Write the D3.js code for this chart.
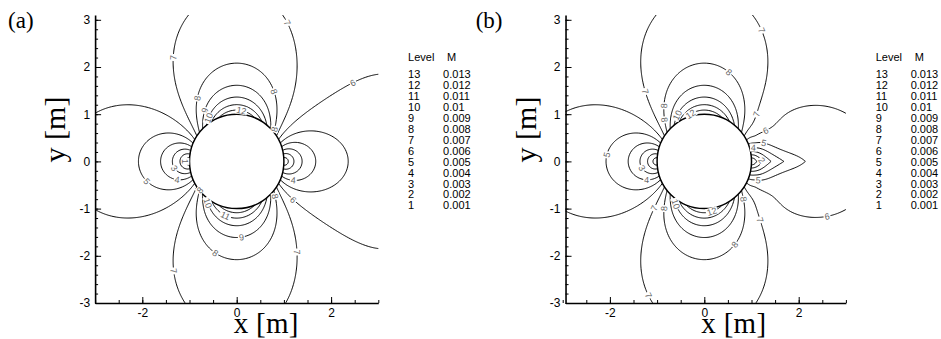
<!DOCTYPE html>
<html>
<head>
<meta charset="utf-8">
<script src="https://cdn.jsdelivr.net/npm/d3@7"></script>
<style>
body{margin:0;background:#fff}
svg{display:block}
.contour{fill:none;stroke:#000;stroke-width:1}
.tick text{font-family:"Liberation Sans",Arial,sans-serif;font-size:12px;fill:#000}
.tick line{stroke:#000;stroke-width:1}
.domain{stroke:#000;stroke-width:1.6}
.title{font-family:"Liberation Serif","Times New Roman",serif;fill:#000}
.legend{font-family:"Liberation Sans",Arial,sans-serif;font-size:11px;fill:#000}
.clabel{font-family:"Liberation Sans",Arial,sans-serif;font-size:9px;fill:#666}
</style>
</head>
<body>
<script>
(function(){

    //legend table: contour level numbers and their Mach values
    var levels = [13, 12, 11, 10, 9, 8, 7, 6, 5, 4, 3, 2, 1];
    var machValues = ["0.013", "0.012", "0.011", "0.01", "0.009", "0.008", "0.007",
                      "0.006", "0.005", "0.004", "0.003", "0.002", "0.001"];
    var thresholds = [0.001, 0.002, 0.003, 0.004, 0.005, 0.006, 0.007,
                      0.008, 0.009, 0.010, 0.011, 0.012, 0.013];

    //flow: free stream Mach and cylinder radius [m]
    var freeStream = [0.0065, 0.0065];          //(a), (b)
    var cylinderRadius = 1;
    //downstream departure from potential flow, read from the right hand side
    var wakeDeficit = [0.0004, 0];              //widening of the M=0.006 region in (a)
    var wakeKink = [0, 0.005];                  //arrow shaped low speed lobes in (b)
    var kinkOffset = 0.05;                      //pushes the arrow tips of (b) downstream

    //axis ranges and ticks
    var xRange = [[-3, 3], [-2.94, 3]];
    var yRange = [-3, 3.1];
    var xMajor = [-2, 0, 2];
    var xMinor = d3.range(-3, 3.01, 0.5);
    var yMajor = [-3, -2, -1, 0, 1, 2, 3];
    var yMinor = d3.range(-3, 3.01, 0.2);
    var panelNames = ["(a)", "(b)"];

    //where the in-line level labels sit [level, x, y]
    var labelSpotsA = [
        [7, -1.34, 2.19], [8, -0.83, 1.33], [9, -0.69, 1.08], [10, -0.6, 0.93], [12, 0.1, 1.08],
        [8, 0.79, 1.47], [8, 0.72, 0.70], [7, 1.26, 3.05], [6, 2.38, 1.81],
        [5, -1.93, -0.43], [4, -1.26, -0.38], [3, -1.33, -0.16], [1, -1.08, 0.0], [4, 1.2, -0.38],
        [8, -0.9, -0.5], [10, -0.64, -0.9], [11, -0.25, -1.15], [9, 0.1, -1.61], [8, -0.46, -1.95],
        [7, -1.34, -2.32], [7, 1.33, -1.91], [8, 0.8, -0.75], [6, 1.2, -0.8]
    ];
    var labelSpotsB = [
        [7, -1.26, 1.48], [8, -0.66, 1.16], [8, -0.87, 0.88], [10, -0.6, 1.0], [12, -0.3, 1.02],
        [8, 0.52, 1.89], [7, 1.22, 2.79], [7, 1.05, 1.02], [6, 1.22, 0.8], [5, 1.32, 0.58],
        [4, 1.04, 0.38], [2, 1.25, 0.03], [5, -2.07, 0.15], [3, -1.33, -0.14], [4, -1.22, -0.38],
        [7, -1.09, -0.98], [8, -0.87, -1.0], [10, -0.69, -0.92], [12, 0.16, -1.06], [8, 0.7, -0.83],
        [5, 1.14, -0.53], [7, 1.19, -1.24], [8, 0.66, -1.76], [6, 2.59, -1.15], [7, -1.26, -2.88]
    ];
    var labelSpots = [labelSpotsA, labelSpotsB];

    var width = 941,
        height = 339,
        unit = 47.2,            //pixels per metre
        x0px = [95.1, 562.7],   //pixel of x=-3 in each panel
        yBottom = 303;          //pixel of y=-3

    var svg = d3.select("body")
        .append("svg")
        .attr("width", width)
        .attr("height", height);

    function smoothstep(a, b, v){
        var t = Math.max(0, Math.min(1, (v - a) / (b - a)));
        return t * t * (3 - 2 * t);
    }

    //Mach number around the cylinder
    function mach(x, y, p){
        var r2 = x * x + y * y;
        if (r2 < 1.0001){
            var th = Math.atan2(y, x);
            x = Math.cos(th) * 1.0001;
            y = Math.sin(th) * 1.0001;
            r2 = x * x + y * y;
        }
        var q = 1 - 2 * (x * x - y * y) / (r2 * r2) + 1 / (r2 * r2);
        var m = freeStream[p] * Math.sqrt(Math.max(q, 0));
        m -= wakeDeficit[p] * smoothstep(0.5, 3, x) * Math.exp(-y * y / (2 * 2.2 * 2.2));
        m += wakeKink[p] * (Math.abs(y) - kinkOffset) * smoothstep(0.8, 1.1, x) *
             Math.exp(-Math.pow((x - 1.4) / 0.7, 2)) * Math.exp(-Math.pow(y / 0.55, 2));
        return m;
    }

    [0, 1].forEach(drawPanel);

    function drawPanel(p){
        var x = d3.scaleLinear()
            .domain(xRange[p])
            .range([x0px[p] + (xRange[p][0] + 3) * unit, x0px[p] + (xRange[p][1] + 3) * unit]);
        var y = d3.scaleLinear()
            .domain(yRange)
            .range([yBottom, yBottom - (yRange[1] - yRange[0]) * unit]);

        var g = svg.append("g");

        //sample grid a little larger than the frame
        var h = 0.02, gx0 = -3.3, gy0 = -3.3,
            nx = Math.round(6.6 / h) + 1, ny = Math.round(6.7 / h) + 1;
        var values = new Float64Array(nx * ny);
        for (var j = 0; j < ny; j++){
            for (var i = 0; i < nx; i++){
                values[j * nx + i] = mach(gx0 + i * h, gy0 + j * h, p);
            }
        }
        var contours = d3.contours().size([nx, ny]).thresholds(thresholds)(values);

        function toData(pt){
            return [gx0 + (pt[0] - 0.5) * h, gy0 + (pt[1] - 0.5) * h];
        }
        var path = d3.geoPath(d3.geoTransform({
            point: function(px, py){
                var d = toData([px, py]);
                this.stream.point(x(d[0]), y(d[1]));
            }
        }));

        var clipId = "clip" + p;
        g.append("clipPath").attr("id", clipId)
            .append("rect")
            .attr("x", x(xRange[p][0])).attr("y", y(yRange[1]))
            .attr("width", x(xRange[p][1]) - x(xRange[p][0]))
            .attr("height", y(yRange[0]) - y(yRange[1]));

        var plot = g.append("g").attr("clip-path", "url(#" + clipId + ")");
        plot.selectAll(".contour")
            .data(contours)
            .enter()
            .append("path")
            .attr("class", "contour")
            .attr("d", path);

        //cylinder
        plot.append("circle")
            .attr("cx", x(0)).attr("cy", y(0))
            .attr("r", x(cylinderRadius) - x(0))
            .attr("fill", "#fff")
            .attr("stroke", "#000")
            .attr("stroke-width", 1.5);

        //in-line labels
        var labels = g.append("g");
        labelSpots[p].forEach(function(s){
            var c = contours[s[0] - 1];
            var best = null, bestD = 1e9;
            c.coordinates.forEach(function(poly){
                poly.forEach(function(ring){
                    for (var k = 1; k < ring.length - 1; k++){
                        var d = toData(ring[k]);
                        var dd = (d[0] - s[1]) * (d[0] - s[1]) + (d[1] - s[2]) * (d[1] - s[2]);
                        if (dd < bestD){ bestD = dd; best = [ring, k]; }
                    }
                });
            });
            if (!best || bestD > 0.09) return;
            var ring = best[0], k = best[1];
            var a = toData(ring[k - 1]), b = toData(ring[k + 1]), m = toData(ring[k]);
            var ang = Math.atan2(y(b[1]) - y(a[1]), x(b[0]) - x(a[0])) * 180 / Math.PI;
            if (ang > 90) ang -= 180;
            if (ang < -90) ang += 180;
            var txt = String(s[0]);
            var w = txt.length * 5 + 2;
            var lg = labels.append("g")
                .attr("transform", "translate(" + x(m[0]) + "," + y(m[1]) + ") rotate(" + ang + ")");
            lg.append("rect")
                .attr("x", -w / 2).attr("y", -4)
                .attr("width", w).attr("height", 8)
                .attr("fill", "#fff");
            lg.append("text")
                .attr("class", "clabel")
                .attr("text-anchor", "middle")
                .attr("dy", "0.35em")
                .text(txt);
        });

        //axes, ticks pointing inward
        g.append("g")
            .attr("transform", "translate(0," + y(yRange[0]) + ")")
            .call(d3.axisBottom(x).tickValues(xMinor).tickSizeInner(-3).tickSizeOuter(0).tickFormat(""))
            .call(function(s){ s.select(".domain").remove(); });
        g.append("g")
            .attr("transform", "translate(0," + y(yRange[0]) + ")")
            .call(d3.axisBottom(x).tickValues(xMajor).tickSizeInner(-6).tickSizeOuter(0)
                .tickPadding(5).tickFormat(function(d){ return String(d); }));
        g.append("g")
            .attr("transform", "translate(" + x(xRange[p][0]) + ",0)")
            .call(d3.axisLeft(y).tickValues(yMinor).tickSizeInner(-3).tickSizeOuter(0).tickFormat(""))
            .call(function(s){ s.select(".domain").remove(); });
        g.append("g")
            .attr("transform", "translate(" + x(xRange[p][0]) + ",0)")
            .call(d3.axisLeft(y).tickValues(yMajor).tickSizeInner(-6).tickSizeOuter(0)
                .tickPadding(5).tickFormat(function(d){ return String(d); }));

        //titles
        g.append("text").attr("class", "title")
            .attr("x", x(0) - 3).attr("y", 333)
            .style("font-size", "29px")
            .style("letter-spacing", "0.3px")
            .text("x [m]");
        g.append("text").attr("class", "title")
            .attr("transform", "translate(" + (x(xRange[p][0]) - 30) + "," + (y(0) + 1) + ") rotate(-90)")
            .style("font-size", "30px")
            .text("y [m]");
        g.append("text").attr("class", "title")
            .attr("x", x0px[p] - 87).attr("y", 28)
            .style("font-size", "23px")
            .text(panelNames[p]);

        //level legend
        var lx = x0px[p] + 313;
        var leg = g.append("g").attr("class", "legend");
        leg.append("text").attr("x", lx).attr("y", 61).text("Level");
        leg.append("text").attr("x", lx + 39).attr("y", 61).text("M");
        leg.selectAll(".row")
            .data(levels)
            .enter()
            .append("text")
            .attr("x", lx)
            .attr("y", function(d, i){ return 78 + i * 10.95; })
            .text(function(d){ return d; });
        leg.selectAll(".val")
            .data(machValues)
            .enter()
            .append("text")
            .attr("x", lx + 35)
            .attr("y", function(d, i){ return 78 + i * 10.95; })
            .text(function(d){ return d; });
    }

})();
</script>
</body>
</html>
